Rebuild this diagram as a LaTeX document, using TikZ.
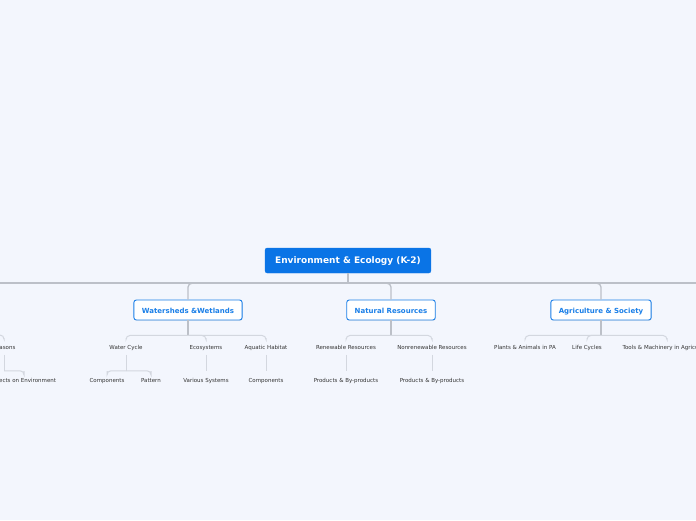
\documentclass[tikz,border=0pt]{standalone}
\usepackage{fontspec}
\setmainfont{DejaVu Sans}
\usepackage{tikz}
\usetikzlibrary{positioning,shadows}
\definecolor{bgBlue}{HTML}{F3F6FD}
\definecolor{rootBlue}{HTML}{0A74E6}
\definecolor{mainBlue}{HTML}{1A7FE8}
\definecolor{trunkGray}{HTML}{BCC0C8}
\definecolor{twigGray}{HTML}{D3D7DF}
\definecolor{leafText}{HTML}{333333}

\begin{document}
\begin{tikzpicture}[x=1pt, y=-1pt,
    rootbox/.style={draw=rootBlue, fill=rootBlue, rounded corners=2pt, text=white, font=\fontsize{9}{10}\selectfont\bfseries, minimum height=25pt, inner xsep=10pt, text height=1.5ex, text depth=0.35ex},
    mainbox/.style={draw=mainBlue, line width=0.9pt, fill=white, rounded corners=2.5pt, text=mainBlue, font=\fontsize{7}{8}\selectfont\bfseries, minimum height=20pt, inner xsep=8pt, text height=1.5ex, text depth=0.35ex, drop shadow={opacity=0.12, shadow xshift=0.6pt, shadow yshift=-0.8pt}},
    leaf/.style={text=leafText, font=\fontsize{5.5}{6.5}\selectfont, inner sep=3pt, text height=1.5ex, text depth=0.35ex},
    trunk/.style={draw=trunkGray, line width=1.3pt, rounded corners=4pt},
    twig/.style={draw=twigGray, line width=1pt, rounded corners=4pt}]
    \useasboundingbox[fill=bgBlue] (0,0) rectangle (696,520);
    % root and main topics
    \node[rootbox] (root) at (348,260.5) {Environment \& Ecology (K-2)};
    \node[mainbox] (ws) at (188,310) {Watersheds \&Wetlands};
    \node[mainbox] (nr) at (391,310) {Natural Resources};
    \node[mainbox] (ag) at (601,310) {Agriculture \& Society};
    \coordinate[below=10pt of root] (rbus);
    \coordinate (busL) at (0,283);
    \coordinate (busR) at (696,283);
    \draw[trunk] (root.south) -- (rbus);
    \draw[trunk] (busL) -- (busR);
    \foreach \m in {ws,nr,ag}
        \draw[trunk] (\m.north) |- (rbus);
    % second level
    \node[leaf] (seas) at (4,346.5) {Seasons};
    \node[leaf] (wc) at (126,346.5) {Water Cycle};
    \node[leaf] (eco) at (206,346.5) {Ecosystems};
    \node[leaf] (aq) at (266,346.5) {Aquatic Habitat};
    \node[leaf] (ren) at (346,346.5) {Renewable Resources};
    \node[leaf] (non) at (432,346.5) {Nonrenewable Resources};
    \node[leaf] (pa) at (525,346.5) {Plants \& Animals in PA};
    \node[leaf] (lc) at (587,346.5) {Life Cycles};
    \node[leaf] (tools) at (667,346.5) {Tools \& Machinery in Agriculture};
    \coordinate[below=15pt of ws] (wsbus);
    \coordinate[below=15pt of nr] (nrbus);
    \coordinate[below=15pt of ag] (agbus);
    \coordinate (lbus) at (-40,335);
    \draw[trunk] (ws.south) -- (wsbus);
    \draw[trunk] (nr.south) -- (nrbus);
    \draw[trunk] (ag.south) -- (agbus);
    \foreach \c in {wc,eco,aq}
        \draw[twig] (\c.north) |- (wsbus);
    \foreach \c in {ren,non}
        \draw[twig] (\c.north) |- (nrbus);
    \foreach \c in {pa,lc,tools}
        \draw[twig] (\c.north) |- (agbus);
    \draw[twig] (seas.north) |- (lbus);
    % third level
    \node[leaf] (eff) at (24,379.5) {Effects on Environment};
    \node[leaf] (comp1) at (107,379.5) {Components};
    \node[leaf] (pat) at (151,379.5) {Pattern};
    \node[leaf] (vs) at (206,379.5) {Various Systems};
    \node[leaf] (comp2) at (266,379.5) {Components};
    \node[leaf] (prod1) at (346,379.5) {Products \& By-products};
    \node[leaf] (prod2) at (432,379.5) {Products \& By-products};
    \coordinate[below=16pt of wc.south] (wcbus);
    \coordinate[below=16pt of seas.south] (seasbus);
    \draw[twig] (wc.south) -- (wcbus);
    \draw[twig] (comp1.north) |- (wcbus);
    \draw[twig] (pat.north) |- (wcbus);
    \draw[twig] (seas.south) -- (seasbus);
    \draw[twig] (eff.north) |- (seasbus);
    \draw[twig] (eco.south) -- (vs.north);
    \draw[twig] (aq.south) -- (comp2.north);
    \draw[twig] (ren.south) -- (prod1.north);
    \draw[twig] (non.south) -- (prod2.north);
\end{tikzpicture}
\end{document}
